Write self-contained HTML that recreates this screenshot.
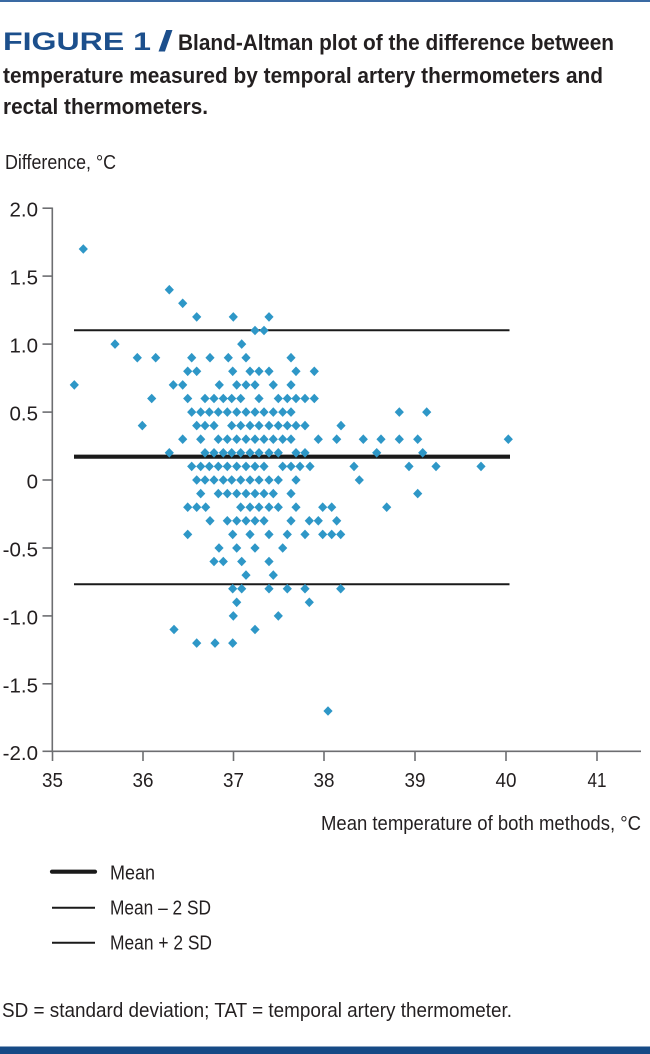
<!DOCTYPE html>
<html>
<head>
<meta charset="utf-8">
<style>
html,body{margin:0;padding:0;background:#fff;}
body{width:650px;height:1054px;overflow:hidden;}
svg{display:block;}
text{font-family:"Liberation Sans",sans-serif;}
</style>
</head>
<body>
<svg width="650" height="1054" viewBox="0 0 650 1054" xmlns="http://www.w3.org/2000/svg">
<defs>
<path id="d" d="M0,-4.8 L4.6,0 L0,4.8 L-4.6,0Z" fill="#2e97c7"/>
</defs>
<rect x="0" y="0" width="650" height="2" fill="#3a6aa3"/>
<rect x="0" y="1046.5" width="650" height="7.5" fill="#164a86"/>

<!-- Title -->
<text x="3" y="50" font-size="25" font-weight="bold" fill="#1c4f8c" textLength="148" lengthAdjust="spacingAndGlyphs">FIGURE 1</text>
<text x="158" y="51" font-size="29" font-weight="bold" fill="#1c4f8c" textLength="15" lengthAdjust="spacingAndGlyphs">/</text>
<text x="178" y="50" font-size="22" font-weight="bold" fill="#231f20" textLength="436" lengthAdjust="spacingAndGlyphs">Bland-Altman plot of the difference between</text>
<text x="3" y="83" font-size="22" font-weight="bold" fill="#231f20" textLength="600" lengthAdjust="spacingAndGlyphs">temperature measured by temporal artery thermometers and</text>
<text x="3" y="114" font-size="22" font-weight="bold" fill="#231f20" textLength="205" lengthAdjust="spacingAndGlyphs">rectal thermometers.</text>

<text x="5" y="169" font-size="20" fill="#231f20" textLength="111" lengthAdjust="spacingAndGlyphs">Difference, °C</text>

<!-- Axes -->
<g stroke="#6d6e71" stroke-width="1.6" fill="none">
<line x1="52.3" y1="207.5" x2="52.3" y2="752"/>
<line x1="51.5" y1="751.3" x2="641" y2="751.3"/>
<line x1="42.5" y1="208.2" x2="52.3" y2="208.2"/>
<line x1="42.5" y1="276.1" x2="52.3" y2="276.1"/>
<line x1="42.5" y1="344.1" x2="52.3" y2="344.1"/>
<line x1="42.5" y1="412.1" x2="52.3" y2="412.1"/>
<line x1="42.5" y1="480" x2="52.3" y2="480"/>
<line x1="42.5" y1="548" x2="52.3" y2="548"/>
<line x1="42.5" y1="615.9" x2="52.3" y2="615.9"/>
<line x1="42.5" y1="683.8" x2="52.3" y2="683.8"/>
<line x1="42.5" y1="751.3" x2="52.3" y2="751.3"/>
<line x1="52.5" y1="751.3" x2="52.5" y2="761"/>
<line x1="143" y1="751.3" x2="143" y2="761"/>
<line x1="233.5" y1="751.3" x2="233.5" y2="761"/>
<line x1="324" y1="751.3" x2="324" y2="761"/>
<line x1="415" y1="751.3" x2="415" y2="761"/>
<line x1="506" y1="751.3" x2="506" y2="761"/>
<line x1="597" y1="751.3" x2="597" y2="761"/>
</g>

<g font-size="20.5" fill="#231f20" text-anchor="end">
<text x="38" y="216.5">2.0</text>
<text x="38" y="284.5">1.5</text>
<text x="38" y="352.5">1.0</text>
<text x="38" y="420.5">0.5</text>
<text x="38" y="488.5">0</text>
<text x="38" y="556.5">-0.5</text>
<text x="38" y="624.5">-1.0</text>
<text x="38" y="692.3">-1.5</text>
<text x="38" y="759.8">-2.0</text>
</g>
<g font-size="20.5" fill="#231f20" text-anchor="middle">
<text x="52.5" y="787" textLength="21" lengthAdjust="spacingAndGlyphs">35</text>
<text x="143" y="787" textLength="21" lengthAdjust="spacingAndGlyphs">36</text>
<text x="233.5" y="787" textLength="21" lengthAdjust="spacingAndGlyphs">37</text>
<text x="324" y="787" textLength="21" lengthAdjust="spacingAndGlyphs">38</text>
<text x="415" y="787" textLength="21" lengthAdjust="spacingAndGlyphs">39</text>
<text x="506" y="787" textLength="21" lengthAdjust="spacingAndGlyphs">40</text>
<text x="597" y="787" textLength="19" lengthAdjust="spacingAndGlyphs">41</text>
</g>
<text x="321" y="830" font-size="20" fill="#231f20" textLength="320" lengthAdjust="spacingAndGlyphs">Mean temperature of both methods, °C</text>

<!-- Reference lines -->
<line x1="74" y1="330.3" x2="509.5" y2="330.3" stroke="#1a1a1a" stroke-width="2"/>
<line x1="74" y1="456.7" x2="510" y2="456.7" stroke="#1a1a1a" stroke-width="4.2"/>
<line x1="74" y1="584.3" x2="509.5" y2="584.3" stroke="#1a1a1a" stroke-width="2"/>

<!-- Points -->
<g>
<use href="#d" x="83.3" y="249"/>
<use href="#d" x="169.3" y="289.7"/>
<use href="#d" x="182.7" y="303.3"/>
<use href="#d" x="196.7" y="316.9"/><use href="#d" x="233.3" y="316.9"/><use href="#d" x="269" y="316.9"/>
<use href="#d" x="255" y="330.5"/><use href="#d" x="264" y="330.5"/>
<use href="#d" x="115" y="344.1"/><use href="#d" x="241.7" y="344.1"/>
<use href="#d" x="137.3" y="357.7"/><use href="#d" x="155.7" y="357.7"/><use href="#d" x="191.7" y="357.7"/><use href="#d" x="210" y="357.7"/><use href="#d" x="228.3" y="357.7"/><use href="#d" x="246" y="357.7"/><use href="#d" x="291" y="357.7"/>
<use href="#d" x="187.7" y="371.3"/><use href="#d" x="196.7" y="371.3"/><use href="#d" x="232.7" y="371.3"/><use href="#d" x="250" y="371.3"/><use href="#d" x="259" y="371.3"/><use href="#d" x="269" y="371.3"/><use href="#d" x="296" y="371.3"/><use href="#d" x="314.3" y="371.3"/>
<use href="#d" x="74.3" y="384.9"/><use href="#d" x="173.3" y="384.9"/><use href="#d" x="182.7" y="384.9"/><use href="#d" x="219.3" y="384.9"/><use href="#d" x="236.7" y="384.9"/><use href="#d" x="246" y="384.9"/><use href="#d" x="255" y="384.9"/><use href="#d" x="273.3" y="384.9"/><use href="#d" x="291" y="384.9"/>
<use href="#d" x="151.7" y="398.5"/><use href="#d" x="187.7" y="398.5"/><use href="#d" x="205" y="398.5"/><use href="#d" x="214" y="398.5"/><use href="#d" x="223.3" y="398.5"/><use href="#d" x="231.7" y="398.5"/><use href="#d" x="240.7" y="398.5"/><use href="#d" x="259" y="398.5"/><use href="#d" x="278.3" y="398.5"/><use href="#d" x="287.3" y="398.5"/><use href="#d" x="296" y="398.5"/><use href="#d" x="305" y="398.5"/><use href="#d" x="314.3" y="398.5"/>
<use href="#d" x="191.7" y="412.1"/><use href="#d" x="200.7" y="412.1"/><use href="#d" x="209.3" y="412.1"/><use href="#d" x="218.3" y="412.1"/><use href="#d" x="227.3" y="412.1"/><use href="#d" x="236.7" y="412.1"/><use href="#d" x="246" y="412.1"/><use href="#d" x="255" y="412.1"/><use href="#d" x="264" y="412.1"/><use href="#d" x="273.3" y="412.1"/><use href="#d" x="282.7" y="412.1"/><use href="#d" x="291" y="412.1"/><use href="#d" x="399.3" y="412.1"/><use href="#d" x="426.7" y="412.1"/>
<use href="#d" x="142.3" y="425.6"/><use href="#d" x="196.7" y="425.6"/><use href="#d" x="205" y="425.6"/><use href="#d" x="214" y="425.6"/><use href="#d" x="231.7" y="425.6"/><use href="#d" x="240.7" y="425.6"/><use href="#d" x="250" y="425.6"/><use href="#d" x="259" y="425.6"/><use href="#d" x="269" y="425.6"/><use href="#d" x="278.3" y="425.6"/><use href="#d" x="287.3" y="425.6"/><use href="#d" x="296" y="425.6"/><use href="#d" x="305" y="425.6"/><use href="#d" x="341" y="425.6"/>
<use href="#d" x="182.7" y="439.2"/><use href="#d" x="200.7" y="439.2"/><use href="#d" x="218.3" y="439.2"/><use href="#d" x="227.3" y="439.2"/><use href="#d" x="236.7" y="439.2"/><use href="#d" x="246" y="439.2"/><use href="#d" x="255" y="439.2"/><use href="#d" x="264" y="439.2"/><use href="#d" x="273.3" y="439.2"/><use href="#d" x="282.7" y="439.2"/><use href="#d" x="291" y="439.2"/><use href="#d" x="318.3" y="439.2"/><use href="#d" x="336.7" y="439.2"/><use href="#d" x="363.3" y="439.2"/><use href="#d" x="381" y="439.2"/><use href="#d" x="399.3" y="439.2"/><use href="#d" x="417.7" y="439.2"/><use href="#d" x="508.3" y="439.2"/>
<use href="#d" x="169.3" y="452.8"/><use href="#d" x="205" y="452.8"/><use href="#d" x="214" y="452.8"/><use href="#d" x="223.3" y="452.8"/><use href="#d" x="231.7" y="452.8"/><use href="#d" x="240.7" y="452.8"/><use href="#d" x="250" y="452.8"/><use href="#d" x="259" y="452.8"/><use href="#d" x="269" y="452.8"/><use href="#d" x="278.3" y="452.8"/><use href="#d" x="296" y="452.8"/><use href="#d" x="305" y="452.8"/><use href="#d" x="376.7" y="452.8"/><use href="#d" x="422.7" y="452.8"/>
<use href="#d" x="191.7" y="466.4"/><use href="#d" x="200.7" y="466.4"/><use href="#d" x="209.3" y="466.4"/><use href="#d" x="218.3" y="466.4"/><use href="#d" x="227.3" y="466.4"/><use href="#d" x="236.7" y="466.4"/><use href="#d" x="246" y="466.4"/><use href="#d" x="255" y="466.4"/><use href="#d" x="264" y="466.4"/><use href="#d" x="282.7" y="466.4"/><use href="#d" x="291" y="466.4"/><use href="#d" x="300" y="466.4"/><use href="#d" x="310" y="466.4"/><use href="#d" x="354" y="466.4"/><use href="#d" x="409" y="466.4"/><use href="#d" x="436" y="466.4"/><use href="#d" x="481" y="466.4"/>
<use href="#d" x="196.7" y="480"/><use href="#d" x="205" y="480"/><use href="#d" x="214" y="480"/><use href="#d" x="223.3" y="480"/><use href="#d" x="231.7" y="480"/><use href="#d" x="240.7" y="480"/><use href="#d" x="250" y="480"/><use href="#d" x="259" y="480"/><use href="#d" x="269" y="480"/><use href="#d" x="278.3" y="480"/><use href="#d" x="296" y="480"/><use href="#d" x="359.3" y="480"/>
<use href="#d" x="200.7" y="493.6"/><use href="#d" x="218.3" y="493.6"/><use href="#d" x="227.3" y="493.6"/><use href="#d" x="236.7" y="493.6"/><use href="#d" x="246" y="493.6"/><use href="#d" x="255" y="493.6"/><use href="#d" x="264" y="493.6"/><use href="#d" x="273.3" y="493.6"/><use href="#d" x="291" y="493.6"/><use href="#d" x="417.7" y="493.6"/>
<use href="#d" x="187.7" y="507.2"/><use href="#d" x="196.7" y="507.2"/><use href="#d" x="205.7" y="507.2"/><use href="#d" x="240.7" y="507.2"/><use href="#d" x="250" y="507.2"/><use href="#d" x="259" y="507.2"/><use href="#d" x="269" y="507.2"/><use href="#d" x="278.3" y="507.2"/><use href="#d" x="296" y="507.2"/><use href="#d" x="322.7" y="507.2"/><use href="#d" x="331.7" y="507.2"/><use href="#d" x="386.7" y="507.2"/>
<use href="#d" x="210" y="520.8"/><use href="#d" x="227.3" y="520.8"/><use href="#d" x="236.7" y="520.8"/><use href="#d" x="246" y="520.8"/><use href="#d" x="255" y="520.8"/><use href="#d" x="264" y="520.8"/><use href="#d" x="291" y="520.8"/><use href="#d" x="309.3" y="520.8"/><use href="#d" x="318.3" y="520.8"/><use href="#d" x="336.7" y="520.8"/>
<use href="#d" x="187.7" y="534.4"/><use href="#d" x="232.7" y="534.4"/><use href="#d" x="250" y="534.4"/><use href="#d" x="269" y="534.4"/><use href="#d" x="287.3" y="534.4"/><use href="#d" x="305" y="534.4"/><use href="#d" x="322.7" y="534.4"/><use href="#d" x="331.7" y="534.4"/><use href="#d" x="340.7" y="534.4"/>
<use href="#d" x="219" y="548"/><use href="#d" x="236.7" y="548"/><use href="#d" x="255" y="548"/><use href="#d" x="282.7" y="548"/>
<use href="#d" x="214" y="561.5"/><use href="#d" x="223.3" y="561.5"/><use href="#d" x="241.7" y="561.5"/><use href="#d" x="269" y="561.5"/>
<use href="#d" x="246" y="575.1"/><use href="#d" x="273.3" y="575.1"/>
<use href="#d" x="232.7" y="588.7"/><use href="#d" x="241.7" y="588.7"/><use href="#d" x="269" y="588.7"/><use href="#d" x="287.3" y="588.7"/><use href="#d" x="305" y="588.7"/><use href="#d" x="340.7" y="588.7"/>
<use href="#d" x="236.7" y="602.3"/><use href="#d" x="309.3" y="602.3"/>
<use href="#d" x="233.3" y="615.9"/><use href="#d" x="278.3" y="615.9"/>
<use href="#d" x="174" y="629.5"/><use href="#d" x="255" y="629.5"/>
<use href="#d" x="196.7" y="643.1"/><use href="#d" x="215" y="643.1"/><use href="#d" x="232.7" y="643.1"/>
<use href="#d" x="328" y="711"/>
</g>

<!-- Legend -->
<line x1="52" y1="871.7" x2="95" y2="871.7" stroke="#1a1a1a" stroke-width="4.2" stroke-linecap="round"/>
<line x1="52" y1="907.7" x2="95" y2="907.7" stroke="#1a1a1a" stroke-width="2"/>
<line x1="52" y1="942.7" x2="95" y2="942.7" stroke="#1a1a1a" stroke-width="2"/>
<g font-size="20" fill="#231f20">
<text x="110" y="879.3" textLength="45" lengthAdjust="spacingAndGlyphs">Mean</text>
<text x="110" y="914.5" textLength="101" lengthAdjust="spacingAndGlyphs">Mean – 2 SD</text>
<text x="110" y="949.5" textLength="102" lengthAdjust="spacingAndGlyphs">Mean + 2 SD</text>
</g>

<text x="2" y="1017" font-size="20.5" fill="#231f20" textLength="510" lengthAdjust="spacingAndGlyphs">SD = standard deviation; TAT = temporal artery thermometer.</text>
</svg>
</body>
</html>
